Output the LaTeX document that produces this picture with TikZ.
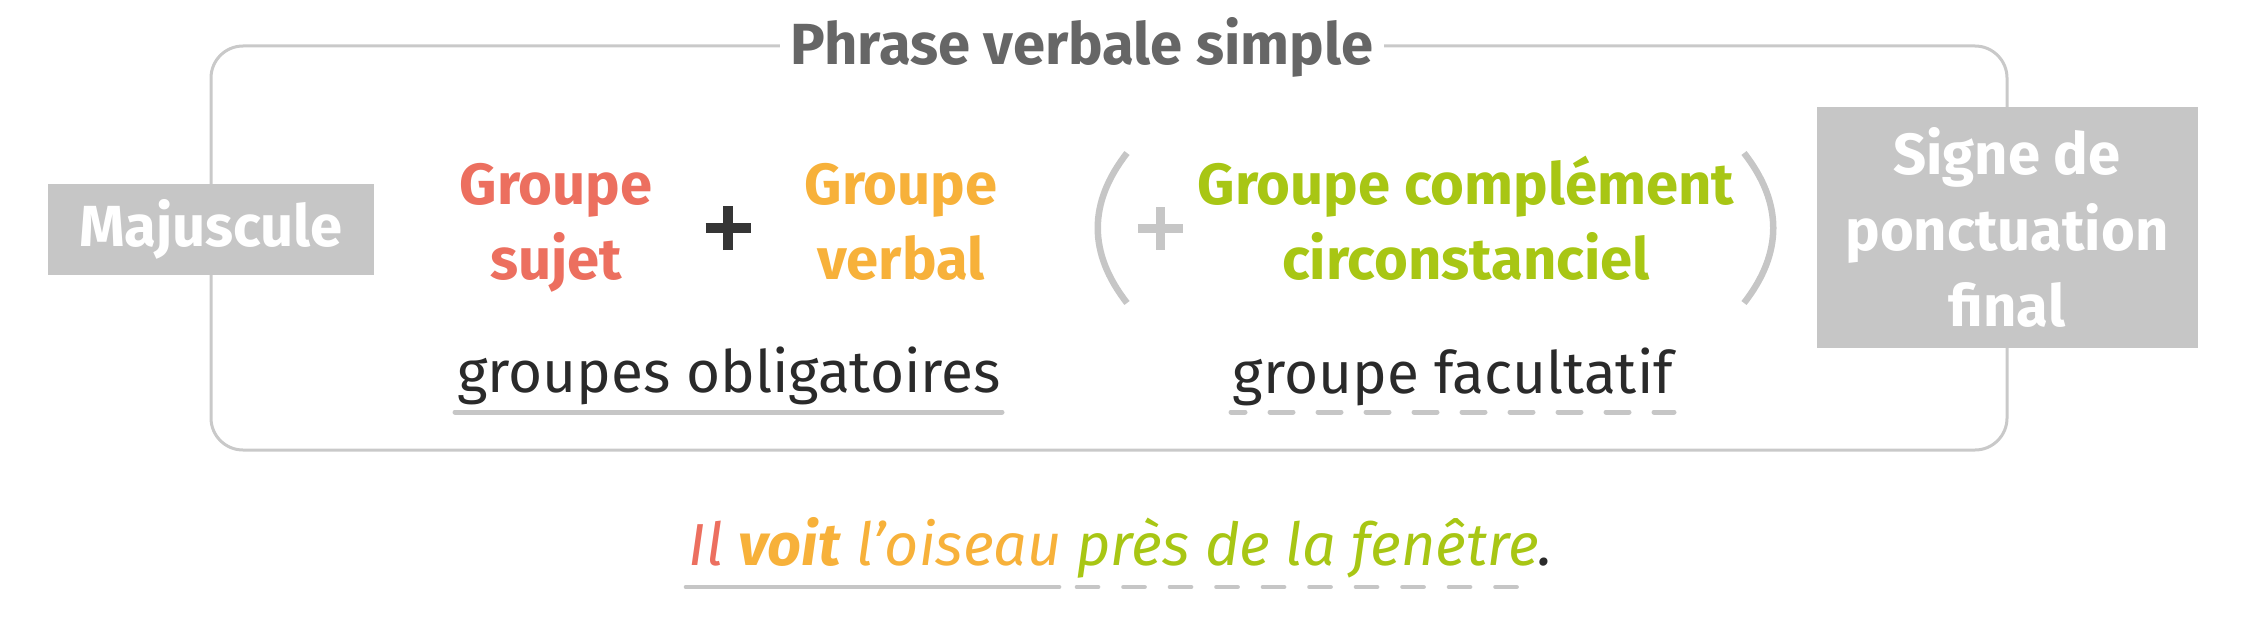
\documentclass[tikz,border=0pt]{standalone}
\usepackage{fontspec}
\setmainfont{Fira Sans}
\definecolor{cred}{HTML}{EC6F5F}
\definecolor{corange}{HTML}{F7B13A}
\definecolor{cgreen}{HTML}{A8C614}
\definecolor{cbox}{HTML}{C6C6C6}
\definecolor{cframe}{HTML}{C9C9C9}
\definecolor{ctitle}{HTML}{666666}
\definecolor{ctext}{HTML}{2A2A2A}
\tikzset{
  boldtxt/.style={font=\fontsize{58}{75}\selectfont\bfseries, align=center, inner sep=0pt},
  regtxt/.style={font=\fontsize{58.5}{75}\selectfont, text=ctext, inner sep=0pt},
  greybox/.style={fill=cbox, text=white, font=\fontsize{58}{76}\selectfont\bfseries, align=center, inner sep=0pt},
  uline/.style={draw=cbox, line width=5pt, line cap=round},
  dline/.style={uline, dash pattern=on 23pt off 25pt},
  paren/.style={draw=cbox, line width=6.5pt},
  plusbar/.style={line width=10pt}
}
\begin{document}
\begin{tikzpicture}[x=1pt,y=-1pt]
\useasboundingbox (0,0) rectangle (2258,618);
% frame
\draw[cframe, line width=3pt, rounded corners=32pt] (211,46) rectangle (2007,450);
\node[boldtxt, text=ctitle, fill=white, inner xsep=11pt, anchor=base] (title) at (1082,65) {Phrase verbale simple};
% side boxes
\node[greybox, minimum width=326pt, minimum height=91pt] (maj) at (211,229) {Majuscule};
\node[greybox, minimum width=381pt, minimum height=241pt] (signe) at (2007,227) {Signe de\\ponctuation\\final};
% groups (anchor base = baseline of last line)
\node[boldtxt, text=cred, anchor=base] (sujet) at (556,279) {Groupe\\sujet};
\node[boldtxt, text=corange, anchor=base] (verbal) at (901,279) {Groupe\\verbal};
\node[boldtxt, text=cgreen, anchor=base] (cc) at (1466,279) {Groupe complément\\circonstanciel};
% plus signs
\coordinate (p1) at (728,228);
\draw[plusbar, color=ctext!95] ([xshift=-22.5pt]p1) -- ([xshift=22.5pt]p1);
\draw[plusbar, color=ctext!95] ([yshift=-22pt]p1) -- ([yshift=22pt]p1);
\coordinate (p2) at (1160,228);
\draw[plusbar, line width=9pt, color=cbox] ([xshift=-22.5pt]p2) -- ([xshift=22.5pt]p2);
\draw[plusbar, line width=9pt, color=cbox] ([yshift=-21.5pt]p2) -- ([yshift=21.5pt]p2);
% parentheses
\draw[paren] (1127,153) .. controls (1088,203) and (1088,253) .. (1127,303);
\draw[paren] (1744,153) .. controls (1783,203) and (1783,253) .. (1744,303);
% labels
\node[regtxt, anchor=base] (oblig) at (729,392) {groupes obligatoires};
\node[regtxt, anchor=base] (facult) at (1453,393) {groupe facultatif};
\draw[uline] (455,412) -- (1002,412);
\draw[dline, dash phase=9pt] (1231,412) -- (1674,412);
% example sentence
\node[font=\fontsize{59.3}{70}\selectfont\itshape, inner sep=0pt, anchor=base] (ex) at (1121,565)
  {\textcolor{cred}{Il} \textcolor{corange}{\textbf{voit} l’oiseau} \textcolor{cgreen}{près de la fenêtre}\textcolor{ctext}{.}};
\draw[uline, line width=4.7pt] (686,587) -- (1059,587);
\draw[dline, line width=4.7pt, dash pattern=on 21pt off 25.5pt] (1077,587) -- (1526,587);
\end{tikzpicture}
\end{document}
